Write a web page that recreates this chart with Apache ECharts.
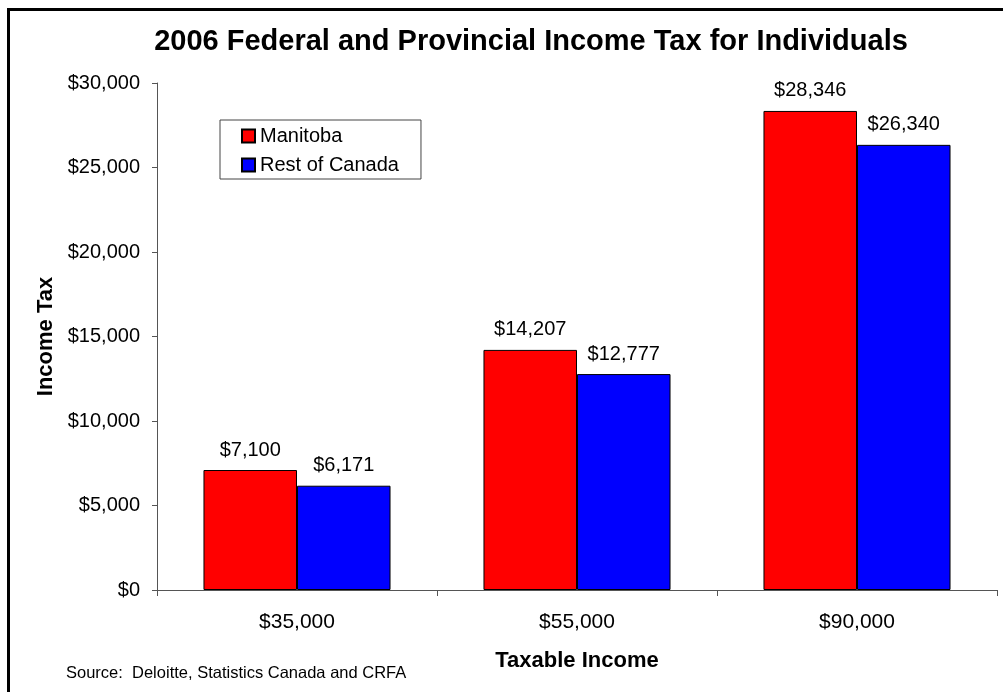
<!DOCTYPE html>
<html>
<head>
<meta charset="utf-8">
<title>2006 Federal and Provincial Income Tax for Individuals</title>
<script src="https://cdn.jsdelivr.net/npm/echarts@6/dist/echarts.min.js"></script>
<style>
  html, body { margin: 0; padding: 0; background: #ffffff; }
  #chart { width: 1003px; height: 692px; }
</style>
</head>
<body>
<div id="chart"></div>
<script>
// Taxable income brackets (x categories)
const incomeLevels = ['$35,000', '$55,000', '$90,000'];
// Combined federal + provincial income tax, dollars
const manitobaTax = [7100, 14207, 28346];
const restOfCanadaTax = [6171, 12777, 26340];
// Value axis range and step
const taxAxisMin = 0;
const taxAxisMax = 30000;
const taxAxisStep = 5000;

const FONT = "'Liberation Sans', Arial, Helvetica, sans-serif";

function dollars(v) {
  return '$' + Math.round(v).toString().replace(/\B(?=(\d{3})+(?!\d))/g, ',');
}

const chart = echarts.init(document.getElementById('chart'), null, { renderer: 'canvas' });

const barLabel = {
  show: true,
  position: 'top',
  distance: 10,
  color: '#000',
  fontFamily: FONT,
  fontSize: 20,
  formatter: p => dollars(p.value)
};

chart.setOption({
  animation: false,
  backgroundColor: '#ffffff',
  textStyle: { fontFamily: FONT },
  title: {
    text: '2006 Federal and Provincial Income Tax for Individuals',
    left: 531,
    top: 27,
    padding: 0,
    textAlign: 'center',
    textStyle: { fontFamily: FONT, fontSize: 29, fontWeight: 'bold', color: '#000' }
  },
  legend: {
    orient: 'vertical',
    left: 220,
    top: 120,
    padding: [6, 22, 4, 21],
    itemWidth: 13,
    itemHeight: 13,
    itemGap: 9,
    icon: 'rect',
    backgroundColor: '#ffffff',
    borderColor: '#444',
    borderWidth: 1,
    textStyle: { fontFamily: FONT, fontSize: 20, color: '#000' },
    data: ['Manitoba', 'Rest of Canada']
  },
  grid: { left: 157, right: 6, top: 83, bottom: 102, containLabel: false },
  xAxis: {
    type: 'category',
    data: incomeLevels,
    name: 'Taxable Income',
    nameLocation: 'middle',
    nameGap: 60,
    nameTextStyle: { fontFamily: FONT, fontSize: 22, fontWeight: 'bold', color: '#000' },
    axisLine: { lineStyle: { color: '#555', width: 1 } },
    axisTick: { show: true, length: 6, alignWithLabel: false, lineStyle: { color: '#555' } },
    axisLabel: { margin: 22, fontFamily: FONT, fontSize: 21, color: '#000' },
    splitLine: { show: false }
  },
  yAxis: {
    type: 'value',
    min: taxAxisMin,
    max: taxAxisMax,
    interval: taxAxisStep,
    name: 'Income Tax',
    nameLocation: 'middle',
    nameGap: 100,
    nameRotate: 90,
    nameTextStyle: { fontFamily: FONT, fontSize: 22, fontWeight: 'bold', color: '#000' },
    axisLine: { show: true, lineStyle: { color: '#555', width: 1 } },
    axisTick: { show: true, length: 5, lineStyle: { color: '#555' } },
    axisLabel: { margin: 17, fontFamily: FONT, fontSize: 20, color: '#000', formatter: v => dollars(v) },
    splitLine: { show: false }
  },
  series: [
    {
      name: 'Manitoba',
      type: 'bar',
      data: manitobaTax,
      barGap: '0%',
      barCategoryGap: '33.2%',
      itemStyle: { color: '#ff0000', borderColor: '#000', borderWidth: 1 },
      label: barLabel
    },
    {
      name: 'Rest of Canada',
      type: 'bar',
      data: restOfCanadaTax,
      barGap: '0%',
      barCategoryGap: '33.2%',
      itemStyle: { color: '#0000ff', borderColor: '#000', borderWidth: 1 },
      label: barLabel
    }
  ],
  graphic: [
    {
      type: 'rect',
      shape: { x: 8.5, y: 9.5, width: 1100, height: 800 },
      style: { fill: 'none', stroke: '#000', lineWidth: 3 },
      silent: true,
      z: 100
    },
    {
      type: 'text',
      left: 66,
      top: 665,
      style: {
        text: 'Source:  Deloitte, Statistics Canada and CRFA',
        font: '16.5px ' + FONT,
        fill: '#000'
      }
    }
  ]
});
</script>
</body>
</html>
